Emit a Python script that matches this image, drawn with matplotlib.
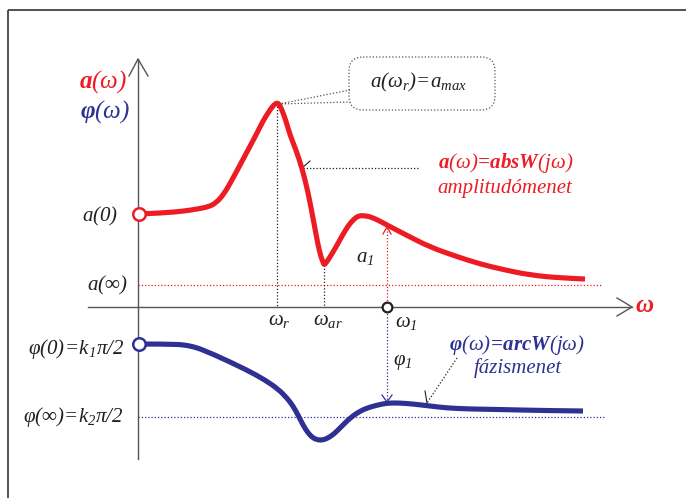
import numpy as np
import matplotlib.pyplot as plt
from matplotlib.patches import FancyBboxPatch, Rectangle, PathPatch
from matplotlib.path import Path

plt.rcParams['font.family'] = ['Liberation Serif', 'DejaVu Serif']
plt.rcParams['mathtext.fontset'] = 'custom'
plt.rcParams['mathtext.rm'] = 'Liberation Serif:italic'
plt.rcParams['mathtext.it'] = 'Liberation Serif:italic'
plt.rcParams['mathtext.bf'] = 'Liberation Serif:bold:italic'

red = '#ED1C24'
blue = '#2E3192'
ink = '#231F20'

# amplitude curve a(w) (x right, y down)
amp_x = [139, 163, 185, 197, 208, 216, 224, 232, 240, 248, 256, 263, 268, 272, 275,
         277, 279, 282, 286, 290, 296, 302, 308, 313, 318, 321, 323, 324, 326, 330,
         336, 342, 348, 353, 358, 363, 372, 387, 410, 430, 455, 480, 505, 530, 560, 585]
amp_y = [214, 213, 211, 209, 207, 203, 194, 180, 165, 150, 135, 121, 113, 107, 104,
         103, 104, 110, 121, 135, 150, 168, 192, 218, 245, 257, 262, 265, 263, 257,
         247, 236, 226, 220, 216, 215.5, 217, 225, 237, 247, 256, 264, 270, 275, 278, 279]

# phase curve phi(w)
ph_x = [139, 165, 190, 213, 247, 265, 278, 287, 293, 298, 303, 308, 313, 318, 323,
        328, 334, 341, 350, 360, 370, 380, 388, 400, 413, 430, 447, 470, 500, 540, 583]
ph_y = [344, 344, 345, 354, 370, 380, 389, 398, 406, 415, 425, 433, 438, 440, 440,
        438, 434, 427, 418, 411, 407, 404.5, 403, 403, 404, 406, 408, 409, 409.5, 410.5, 411]

# characteristic levels and frequencies
y_axis = 307
x_axis0 = 138
a_inf = 285
phi_inf = 417
w_r, w_ar, w_1 = 277, 324, 387
a_1 = 227
phi_1 = 402

dot = (0, (1, 1.6))


def smooth_path(xs, ys):
    # quadratic B-spline path with the read points as control points
    pts = list(zip(xs, ys))
    verts = [pts[0]]
    codes = [Path.MOVETO]
    for i in range(1, len(pts) - 1):
        mid = ((pts[i][0] + pts[i + 1][0]) / 2, (pts[i][1] + pts[i + 1][1]) / 2)
        if i == len(pts) - 2:
            mid = pts[-1]
        verts += [pts[i], mid]
        codes += [Path.CURVE3, Path.CURVE3]
    return Path(verts, codes)


fig = plt.figure(figsize=(6.86, 4.98), dpi=100)
ax = fig.add_axes([0, 0, 1, 1])
ax.set_xlim(0, 686)
ax.set_ylim(498, 0)
ax.axis('off')

# frame
ax.add_patch(Rectangle((8, 10), 700, 500, fill=False, ec='#444444', lw=1.3))

# axes with open arrow heads
ax.plot([x_axis0, x_axis0], [459, 59], color='#555555', lw=1)
ax.plot([129, x_axis0, 148], [76, 59, 76], color='#555555', lw=1)
ax.plot([88, 632], [y_axis, y_axis], color='#555555', lw=1)
ax.plot([617, 632, 617], [298, y_axis, 316], color='#555555', lw=1)

# reference levels
ax.plot([x_axis0, 602], [a_inf, a_inf], color=red, lw=0.9, ls=dot)
ax.plot([x_axis0, 605], [phi_inf, phi_inf], color=blue, lw=0.9, ls=dot)

# frequency markers
ax.plot([w_r, w_r], [amp_y[amp_x.index(w_r)], y_axis], color=ink, lw=0.9, ls=dot)
ax.plot([w_ar, w_ar], [amp_y[amp_x.index(w_ar)], y_axis], color=ink, lw=0.9, ls=dot)
ax.plot([w_1, w_1], [y_axis, a_1], color=red, lw=0.9, ls=dot)
ax.plot([w_1 - 4, w_1, w_1 + 4], [a_1 + 7, a_1, a_1 + 7], color=red, lw=0.9)
ax.plot([w_1, w_1], [y_axis, phi_1], color=blue, lw=0.9, ls=dot)
ax.plot([w_1 - 5, w_1, w_1 + 5], [phi_1 - 7, phi_1, phi_1 - 7], color=blue, lw=0.9)

# curves
ax.add_patch(PathPatch(smooth_path(amp_x, amp_y), fill=False, ec=red, lw=3.7,
                       joinstyle='round', capstyle='butt', zorder=3))
ax.add_patch(PathPatch(smooth_path(ph_x, ph_y), fill=False, ec=blue, lw=3.7,
                       joinstyle='round', capstyle='butt', zorder=3))
ax.plot(amp_x[0], amp_y[0], 'o', ms=9, mfc='white', mec=red, mew=1.8, zorder=5)
ax.plot(ph_x[0], ph_y[0], 'o', ms=9, mfc='white', mec=blue, mew=1.8, zorder=5)
ax.plot(w_1, y_axis, 'o', ms=7, mfc='white', mec=ink, mew=1.6, zorder=5)

# callout for the maximum
ax.add_patch(FancyBboxPatch((361, 69), 122, 29, boxstyle='round,pad=12,rounding_size=14',
                            fill=False, ec='#555555', lw=0.9, ls=dot))
ax.plot([350, 279, 350], [90, 104, 102], color='#555555', lw=0.9, ls=dot)
ax.text(419, 82, r'$a(\omega_r)\!=\!a_{max}$', fontsize=15, color=ink, ha='center', va='center')

# leaders
ax.plot([303, 418], [168, 168], color=ink, lw=0.9, ls=dot)
ax.plot([302, 310], [168, 161], color=ink, lw=0.8)
ax.plot([457, 427], [358, 403], color=ink, lw=0.9, ls=dot)
ax.plot([425, 427], [391, 403], color=ink, lw=0.8)

# labels
ax.text(103, 82, r'$\mathbf{a}(\omega)$', fontsize=18, color=red, ha='center', va='center')
ax.text(105, 112, r'$\mathbf{\varphi}(\omega)$', fontsize=18, color=blue, ha='center', va='center')
ax.text(100, 216, r'$a(0)$', fontsize=15, color=ink, ha='center', va='center')
ax.text(107, 285, r'$a(\infty)$', fontsize=15, color=ink, ha='center', va='center')
ax.text(124, 349, r'$\varphi(0)\!=\!k_1\pi/2$', fontsize=15, color=ink, ha='right', va='center')
ax.text(124, 417, r'$\varphi(\infty)\!=\!k_2\pi/2$', fontsize=15, color=ink, ha='right', va='center')

ax.text(506, 163, r'$\mathbf{a}(\omega)\!\mathbf{=}\!\mathbf{absW}(j\omega)$', fontsize=15,
        color=red, ha='center', va='center')
ax.text(505, 188, 'amplitudómenet', fontsize=15, color=red, style='italic', ha='center', va='center')
ax.text(517, 345, r'$\mathbf{\varphi}(\omega)\!\mathbf{=}\!\mathbf{arcW}(j\omega)$', fontsize=15,
        color=blue, ha='center', va='center')
ax.text(518, 368, 'fázismenet', fontsize=15, color=blue, style='italic', ha='center', va='center')

ax.text(279, 320, r'$\omega_r$', fontsize=15, color=ink, ha='center', va='center')
ax.text(328, 320, r'$\omega_{ar}$', fontsize=15, color=ink, ha='center', va='center')
ax.text(406, 322, r'$\omega_1$', fontsize=15, color=ink, ha='center', va='center')
ax.text(365, 257, r'$a_1$', fontsize=15, color=ink, ha='center', va='center')
ax.text(403, 362, r'$\varphi_1$', fontsize=15, color=ink, ha='center', va='center')
ax.text(645, 306, r'$\mathbf{\omega}$', fontsize=18, color=red, ha='center', va='center')

fig.savefig('out.png', dpi=100)
